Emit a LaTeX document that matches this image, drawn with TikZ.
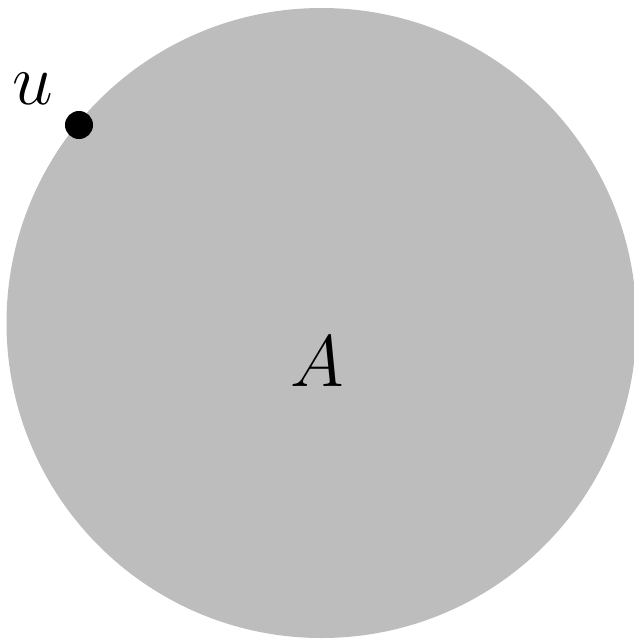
\documentclass[tikz,border=0pt]{standalone}
\definecolor{diskgray}{HTML}{BDBDBD}
\begin{document}
\begin{tikzpicture}[x=0.01cm,y=-0.01cm,
  disk/.style={fill=diskgray,draw=none},
  pt/.style={circle,fill=black,inner sep=0pt,minimum size=0.28cm},
  lbl/.style={font=\fontsize{20.5}{24}\selectfont,inner sep=0pt}]
\useasboundingbox (0,0) rectangle (634,639);
\fill[disk] (321.5,323) circle (315);
\node[pt] (u) at (79,125) {};
\node[lbl] (ulabel) at (33,89) {$u$};
\node[lbl] (A) at (317,362) {$A$};
\end{tikzpicture}
\end{document}
